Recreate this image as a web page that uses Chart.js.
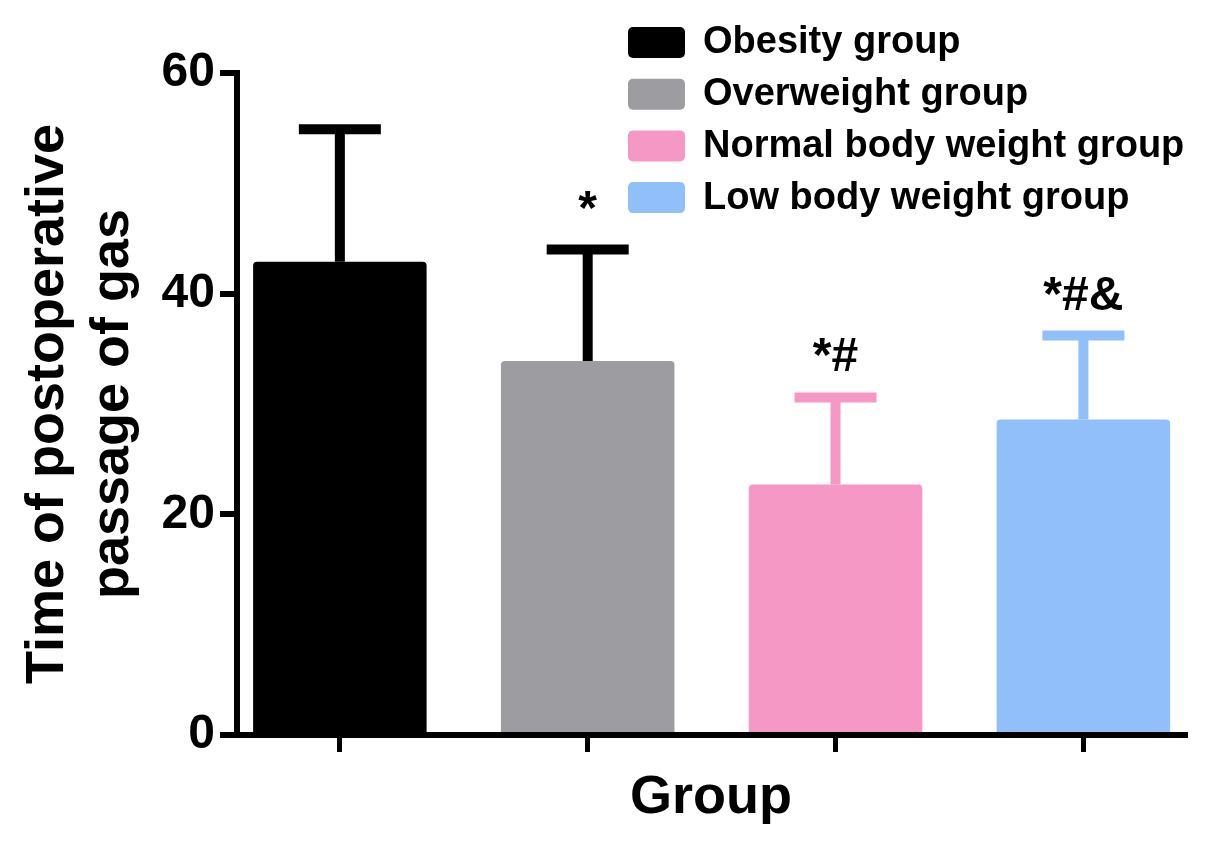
<!DOCTYPE html>
<html>
<head>
<meta charset="utf-8">
<script src="https://cdn.jsdelivr.net/npm/chart.js@4.4.0/dist/chart.umd.min.js"></script>
<style>
  html, body { margin: 0; padding: 0; background: #fff; }
</style>
</head>
<body>
<canvas id="chart" width="1205" height="855"></canvas>
<script>
const groups = ['Obesity group', 'Overweight group', 'Normal body weight group', 'Low body weight group'];
const groupPos = [1, 2, 3, 4];
const meanTime = [42.9, 33.9, 22.7, 28.6];
const sdTime = [12.0, 10.1, 7.9, 7.6];
const marks = ['', '*', '*#', '*#&'];
const yTicks = [0, 20, 40, 60];

const barColors = ['#000000', '#9d9ca1', '#f698c5', '#90bffa'];
const errColors = ['#000000', '#000000', '#f698c5', '#90bffa'];
const FONT = "'Liberation Sans', Arial, sans-serif";

// error bars + significance marks
const errorBars = {
  id: 'errorBars',
  afterDatasetsDraw(chart) {
    const { ctx, scales: { x, y } } = chart;
    ctx.save();
    groupPos.forEach((g, i) => {
      const px = x.getPixelForValue(g);
      const yBar = y.getPixelForValue(meanTime[i]);
      const yTop = y.getPixelForValue(meanTime[i] + sdTime[i]);
      ctx.strokeStyle = errColors[i];
      ctx.lineWidth = 10;
      ctx.lineCap = 'butt';
      ctx.beginPath();
      ctx.moveTo(px, yBar);
      ctx.lineTo(px, yTop);
      ctx.moveTo(px - 41, yTop);
      ctx.lineTo(px + 41, yTop);
      ctx.stroke();
      if (marks[i]) {
        ctx.fillStyle = '#000';
        ctx.font = 'bold 48px ' + FONT;
        ctx.textAlign = 'center';
        ctx.textBaseline = 'alphabetic';
        ctx.fillText(marks[i], px, yTop - 26);
      }
    });
    ctx.restore();
  }
};

// legend in the top right corner
const boxLegend = {
  id: 'boxLegend',
  afterDraw(chart) {
    const ctx = chart.ctx;
    ctx.save();
    ctx.font = 'bold 38px ' + FONT;
    ctx.textBaseline = 'middle';
    ctx.textAlign = 'left';
    groups.forEach((name, i) => {
      const cy = 42 + i * 51.7;
      ctx.fillStyle = barColors[i];
      ctx.beginPath();
      ctx.roundRect(628, cy - 15, 57, 31, 5);
      ctx.fill();
      ctx.fillStyle = '#000';
      ctx.fillText(name, 703, cy + 1);
    });
    ctx.restore();
  }
};

new Chart(document.getElementById('chart'), {
  type: 'bar',
  data: {
    datasets: [{
      data: groupPos.map((g, i) => ({ x: g, y: meanTime[i] })),
      backgroundColor: barColors,
      borderRadius: 4,
      borderSkipped: 'start',
      categoryPercentage: 0.7,
      barPercentage: 1,
    }],
  },
  options: {
    responsive: false,
    animation: false,
    layout: { padding: { left: 0, right: 20, top: 73, bottom: 0 } },
    plugins: { legend: { display: false }, tooltip: { enabled: false } },
    scales: {
      x: {
        type: 'linear',
        offset: false,
        min: 0.585,
        max: 4.41,
        afterBuildTicks: (s) => { s.ticks = groupPos.map(v => ({ value: v })); },
        afterFit: (s) => { s.height = 120; },
        ticks: { callback: () => '' },
        grid: { offset: false, drawOnChartArea: false, drawTicks: true, tickLength: 17, color: '#000', lineWidth: 5 },
        border: { display: true, color: '#000', width: 6 },
        title: {
          display: true, text: 'Group', color: '#000',
          font: { family: FONT, size: 54, weight: 'bold' },
          padding: { top: 0, bottom: 24 },
        },
      },
      y: {
        min: 0,
        max: 60,
        afterBuildTicks: (s) => { s.ticks = yTicks.map(v => ({ value: v })); },
        afterFit: (s) => { s.width = 237; },
        ticks: { color: '#000', padding: 5, font: { family: FONT, size: 48, weight: 'bold' } },
        grid: { drawOnChartArea: false, drawTicks: true, tickLength: 17, color: '#000', lineWidth: 6 },
        border: { display: true, color: '#000', width: 6 },
        title: {
          display: true, text: ['Time of postoperative', 'passage of gas'], color: '#000',
          font: { family: FONT, size: 54, weight: 'bold' },
          padding: { top: 16, bottom: 0 },
        },
      },
    },
  },
  plugins: [errorBars, boxLegend],
});
</script>
</body>
</html>
